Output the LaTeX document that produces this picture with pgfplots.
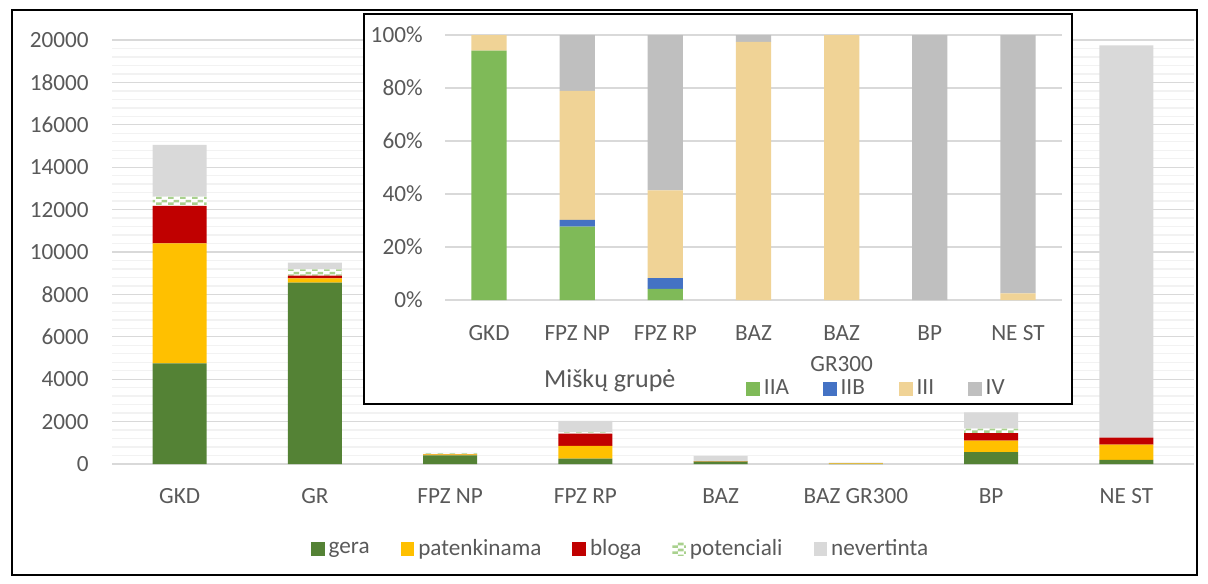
\documentclass[border=0pt]{standalone}
\usepackage{fontspec}
\setmainfont{Carlito}
\usepackage{pgfplots}
\usepackage{pgfplotstable}
\pgfplotsset{compat=1.18}
\usetikzlibrary{patterns.meta}
\definecolor{gera}{HTML}{548235}
\definecolor{pat}{HTML}{FFC000}
\definecolor{bloga}{HTML}{C00000}
\definecolor{potg}{HTML}{A9D18E}
\definecolor{nev}{HTML}{D9D9D9}
\definecolor{iia}{HTML}{7FBA58}
\definecolor{iib}{HTML}{4472C4}
\definecolor{iii}{HTML}{F0D396}
\definecolor{iv}{HTML}{BFBFBF}
\definecolor{txt}{HTML}{595959}
\definecolor{gmaj}{HTML}{D9D9D9}
\definecolor{gmin}{HTML}{F2F2F2}
\pgfdeclarepattern{
  name=potdash,
  type=uncolored,
  bottom left={\pgfpoint{0pt}{0pt}},
  top right={\pgfpoint{6pt}{3pt}},
  tile size={\pgfpoint{6pt}{3pt}},
  code={
    \pgfpathrectangle{\pgfpoint{0pt}{0pt}}{\pgfpoint{3pt}{1.5pt}}
    \pgfpathrectangle{\pgfpoint{3pt}{1.5pt}}{\pgfpoint{3pt}{1.5pt}}
    \pgfusepath{fill}
  }
}
\pgfplotstableread{
x gera pat bloga pot nev
0 4750 5660 1770 430 2440
1 8550 210 120 300 320
2 410 40 20 30 30
3 250 610 570 60 540
4 110 20 10 10 230
5 5 20 10 5 30
6 566 534 362 203 769
7 190 720 330 0 18510
}\maintable
\pgfplotstableread{
x IIA IIB III IV
0 94.1 0 5.9 0
1 27.7 2.5 48.7 21.1
2 4.2 4.1 33.1 58.6
3 0 0 97.4 2.6
4 0 0 100 0
5 0 0 0 100
6 0 0 2.5 97.5
}\insettable
\newcommand{\tfont}{\fontsize{11.6}{15.5}\selectfont}
\begin{document}
\begin{tikzpicture}
\useasboundingbox (0,0) rectangle (604pt,-291.5pt);
\draw[black, line width=0.9pt] (5.8pt,-5pt) rectangle (598.5pt,-287.5pt);
\begin{axis}[
  at={(56pt,-232pt)}, anchor=south west,
  scale only axis, width=541pt, height=212pt,
  ybar stacked, bar width=0.4,
  xmin=-0.5, xmax=7.5, ymin=0, ymax=20000,
  xtick={0,...,7},
  xticklabels={GKD,GR,FPZ NP,FPZ RP,BAZ,BAZ GR300,BP,NE ST},
  ytick={0,2000,...,20000},
  minor y tick num=4,
  scaled y ticks=false,
  /pgf/number format/assume math mode=true,
  /pgf/number format/1000 sep={},
  ymajorgrids, yminorgrids,
  major grid style={color=gmaj, line width=0.6pt},
  minor grid style={color=gmin, line width=0.7pt},
  axis line style={draw=none},
  tick style={draw=none},
  ticklabel style={font=\tfont, text=txt},
  yticklabel style={anchor=east, inner sep=0pt, xshift=-11.5pt},
  xticklabel style={anchor=north, inner sep=0pt, yshift=-12pt},
  legend columns=-1,
  legend style={at={(0.471,-0.2005)}, anchor=center, draw=none, fill=none,
    font=\tfont, text=txt, nodes={inner sep=2pt},
    /tikz/every even column/.append style={column sep=13.5pt}},
  legend image code/.code={\path[#1,draw=none] (0pt,-3.4pt) rectangle (6.8pt,3.4pt);},
]
\addplot[fill=gera, draw=none] table[x=x,y=gera]{\maintable};
\addlegendentry{gera}
\addplot[fill=pat, draw=none] table[x=x,y=pat]{\maintable};
\addlegendentry{patenkinama}
\addplot[fill=bloga, draw=none] table[x=x,y=bloga]{\maintable};
\addlegendentry{bloga}
\addplot[fill=white, draw=none, postaction={pattern=potdash, pattern color=potg}] table[x=x,y=pot]{\maintable};
\addlegendentry{potenciali}
\addplot[fill=nev, draw=none] table[x=x,y=nev]{\maintable};
\addlegendentry{nevertinta}
\end{axis}
\filldraw[fill=white, draw=black, line width=1.2pt] (182pt,-7pt) rectangle (536pt,-202pt);
\begin{axis}[
  at={(222.5pt,-150pt)}, anchor=south west,
  scale only axis, width=308.5pt, height=132.5pt,
  ybar stacked, bar width=0.4,
  xmin=-0.5, xmax=6.5, ymin=0, ymax=100,
  xtick={0,...,6},
  xticklabels={GKD,FPZ NP,FPZ RP,BAZ,{BAZ\\GR300},BP,NE ST},
  ytick={0,20,...,100},
  yticklabel={\pgfmathprintnumber{\tick}\%},
  /pgf/number format/assume math mode=true,
  ymajorgrids,
  major grid style={color=gmaj, line width=0.6pt},
  axis line style={draw=none},
  tick style={draw=none},
  ticklabel style={font=\tfont, text=txt},
  yticklabel style={anchor=east, inner sep=0pt, xshift=-11pt},
  xticklabel style={anchor=north, inner sep=0pt, yshift=-12.5pt, align=center},
  xlabel={Miškų grupė},
  every axis x label/.style={at={(axis description cs:0.267,-0.332)}, anchor=base, font=\fontsize{13}{15}\selectfont, text=txt},
  legend columns=-1,
  legend style={at={(0.701,-0.336)}, anchor=center, draw=none, fill=none,
    font=\tfont, text=txt, nodes={inner sep=2pt},
    /tikz/every even column/.append style={column sep=15pt}},
  legend image code/.code={\path[#1,draw=none] (0pt,-3.4pt) rectangle (6.8pt,3.4pt);},
]
\addplot[fill=iia, draw=none] table[x=x,y=IIA]{\insettable};
\addlegendentry{IIA}
\addplot[fill=iib, draw=none] table[x=x,y=IIB]{\insettable};
\addlegendentry{IIB}
\addplot[fill=iii, draw=none] table[x=x,y=III]{\insettable};
\addlegendentry{III}
\addplot[fill=iv, draw=none] table[x=x,y=IV]{\insettable};
\addlegendentry{IV}
\end{axis}
\end{tikzpicture}
\end{document}
